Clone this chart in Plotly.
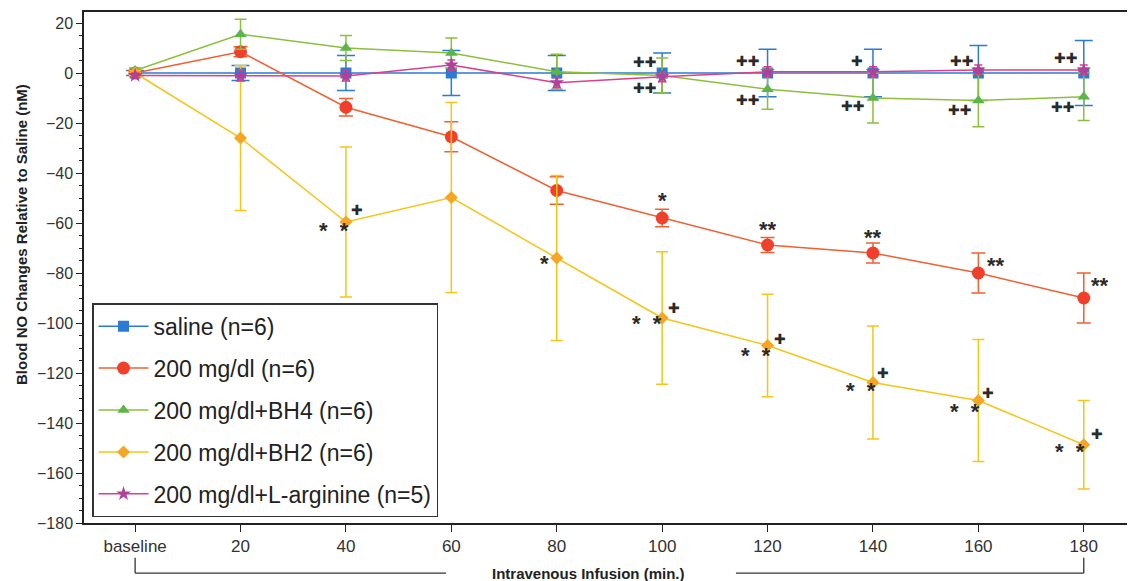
import plotly.graph_objects as go

# ---------------- data ----------------
time_min = [0, 20, 40, 60, 80, 100, 120, 140, 160, 180]
tick_text = ["baseline", "20", "40", "60", "80", "100", "120", "140", "160", "180"]

saline = [0, 0, 0, 0, 0, 0, 0, 0, 0, 0]
saline_err = [1, 3, 7, 9, 7, 8, 9.5, 9.5, 11, 13]

glu200 = [0, 8.5, -13.7, -25.5, -47, -58, -68.8, -72, -80, -90]
glu200_err = [1, 2, 3.5, 6, 5.5, 3.5, 3, 4, 8, 10]

bh4 = [1, 15.5, 10, 8, 0.5, -1, -6.5, -10, -11, -9.5]
bh4_err = [1, 6, 5, 6, 7, 7, 8, 10, 10.5, 9.5]

bh2 = [0, -26, -59.6, -49.8, -74, -98, -109, -123.8, -131, -148.7]
bh2_err = [1, 29, 30, 38, 33, 26.5, 20.5, 22.6, 24.4, 17.7]

larg = [-1, -1.2, -1.2, 3.2, -3.9, -1.5, 0.5, 0.5, 1.2, 1.2]
larg_err = [1, 2, 2, 2, 2, 2, 2, 2, 2, 2]

series_names = ["saline (n=6)", "200 mg/dl (n=6)", "200 mg/dl+BH4 (n=6)",
                "200 mg/dl+BH2 (n=6)", "200 mg/dl+L-arginine (n=5)"]

# significance marks: (time, series key, text, xshift px, yshift px)
marks = [
    (40, "bh2", "*  *", -12, -8), (40, "bh2", "✚", 11, 12),
    (80, "bh2", "*", -12, -5),
    (100, "bh2", "*  *", -15, -5), (100, "bh2", "✚", 12, 10),
    (120, "bh2", "*  *", -12, -10), (120, "bh2", "✚", 12, 7),
    (140, "bh2", "*  *", -12, -8), (140, "bh2", "✚", 10, 10),
    (160, "bh2", "*  *", -13, -11), (160, "bh2", "✚", 10, 8),
    (180, "bh2", "*  *", -14, -7), (180, "bh2", "✚", 13, 11),
    (100, "glu", "*", 0, 18), (120, "glu", "**", 0, 16), (140, "glu", "**", 0, 16),
    (160, "glu", "**", 18, 8), (180, "glu", "**", 16, 13),
    (100, "sal", "✚✚", -18, 11), (120, "sal", "✚✚", -20, 12), (140, "sal", "✚", -16, 12),
    (160, "sal", "✚✚", -17, 12), (180, "sal", "✚✚", -18, 15),
    (100, "bh4", "✚✚", -18, -12), (120, "bh4", "✚✚", -20, -11), (140, "bh4", "✚✚", -20, -8),
    (160, "bh4", "✚✚", -19, -9), (180, "bh4", "✚✚", -21, -10),
]

# ---------------- figure ----------------
fig = go.Figure()

styles = [
    (saline, saline_err, "#2a7bd4", "#2a7bd4", "square", 11, 9),
    (glu200, glu200_err, "#f0402c", "#f06030", "circle", 13, 7),
    (bh4, bh4_err, "#5cb548", "#8cbf3c", "triangle-up", 11, 6),
    (bh2, bh2_err, "#f5a623", "#f5c518", "diamond", 10, 6),
    (larg, larg_err, "#b0409a", "#d8408a", "star", 11, 4),
]

for i, (vals, errs, mcol, lcol, sym, msize, cap) in enumerate(styles):
    fig.add_trace(go.Scatter(
        x=time_min, y=vals, name=series_names[i], mode="lines+markers",
        legendgroup=f"g{i}",
        line=dict(color=lcol, width=1.5),
        marker=dict(color=mcol, symbol=sym, size=msize, line=dict(width=0)),
        error_y=dict(type="data", array=errs, visible=True, color=lcol,
                     thickness=1.5, width=cap),
    ))

lookup = {"sal": saline, "glu": glu200, "bh4": bh4, "bh2": bh2, "larg": larg}
annotations = []
for t, key, txt, xs, ys in marks:
    yv = lookup[key][time_min.index(t)]
    is_star = "*" in txt
    annotations.append(dict(
        x=t, y=yv, xref="x", yref="y",
        text=f"<b>{txt.replace(' ', '&nbsp;')}</b>" if is_star else txt,
        showarrow=False, xanchor="center", yanchor="middle",
        xshift=xs, yshift=ys,
        font=dict(family="Liberation Sans, Arial" if is_star else "DejaVu Sans",
                  size=22 if is_star else 14, color="#2a2a2a"),
    ))

# axis titles
annotations.append(dict(
    x=86, y=-0.098, xref="x", yref="paper", xanchor="center", yanchor="middle",
    text="<b>Intravenous Infusion (min.)</b>",
    showarrow=False, font=dict(family="Liberation Sans, Arial", size=15, color="#222"),
))
annotations.append(dict(
    x=-0.0604, y=0.5636, xref="paper", yref="paper", textangle=-90,
    xanchor="center", yanchor="middle",
    text="<b>Blood NO Changes Relative to Saline (nM)</b>",
    showarrow=False, font=dict(family="Liberation Sans, Arial", size=15, color="#222"),
))
fig.update_layout(annotations=annotations)

shape_line = dict(color="#333", width=1.3)
fig.add_shape(type="line", xref="x", yref="paper", x0=0, x1=0, y0=-0.068, y1=-0.098, line=shape_line)
fig.add_shape(type="line", xref="x", yref="paper", x0=0, x1=59, y0=-0.098, y1=-0.098, line=shape_line)
fig.add_shape(type="line", xref="x", yref="paper", x0=114, x1=180, y0=-0.098, y1=-0.098, line=shape_line)
fig.add_shape(type="line", xref="x", yref="paper", x0=180, x1=180, y0=-0.068, y1=-0.098, line=shape_line)

fig.update_layout(
    width=1129, height=581,
    margin=dict(l=84, r=2, t=12, b=58, autoexpand=False),
    paper_bgcolor="white", plot_bgcolor="white",
    font=dict(family="Liberation Sans, Arial", color="#333"),
    showlegend=True,
    legend=dict(
        x=0.0077, y=0.43, xanchor="left", yanchor="top",
        bgcolor="white", bordercolor="#333", borderwidth=1.5,
        font=dict(size=23, color="#222"), tracegroupgap=9,
        itemwidth=50,
    ),
    xaxis=dict(
        range=[-9.7, 188.2], tickvals=time_min, ticktext=tick_text, automargin=False,
        showgrid=False, zeroline=False, showline=True, linecolor="#222", linewidth=1.5,
        mirror=True, ticks="outside", ticklen=7, tickcolor="#222",
        tickfont=dict(size=17, color="#333"),
    ),
    yaxis=dict(
        range=[-180, 24.4], tickvals=list(range(-180, 21, 20)), automargin=False,
        showgrid=False, zeroline=False, showline=True, linecolor="#222", linewidth=1.5,
        ticks="outside", ticklen=6, tickcolor="#222",
        tickfont=dict(size=16, color="#333"),
        minor=dict(dtick=5, ticks="outside", ticklen=3, tickcolor="#222"),
    ),
)

fig.write_html("out.html", config={"displayModeBar": False},
               post_script="document.body.style.margin='0';document.body.style.overflow='hidden';")
